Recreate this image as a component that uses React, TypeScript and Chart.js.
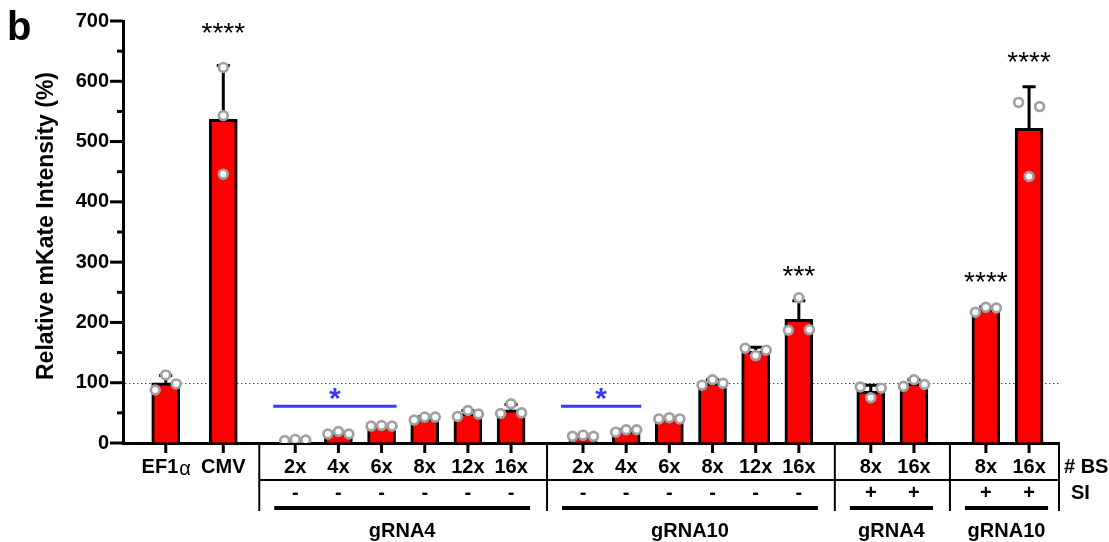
import React, { useEffect, useRef } from "react";
import { Chart, registerables } from "chart.js";

Chart.register(...registerables);

// ---------- data ----------
const categories = ["EF1α", "CMV", "2x", "4x", "6x", "8x", "12x", "16x", "2x", "4x", "6x", "8x", "12x", "16x", "8x", "16x", "8x", "16x"];
const groupIndex = [0, 0, 1, 1, 1, 1, 1, 1, 2, 2, 2, 2, 2, 2, 3, 3, 4, 4];
const siMarks = ["", "", "-", "-", "-", "-", "-", "-", "-", "-", "-", "-", "-", "-", "+", "+", "+", "+"];
const groupNames = ["", "gRNA4", "gRNA10", "gRNA4", "gRNA10"];
const means = [100, 537, 5, 16, 28, 41, 49, 55, 12, 20, 41, 100, 152, 205, 86, 99, 222, 522];
const sds = [12, 89, 1, 2, 1, 3, 5, 9, 1, 2, 1, 5, 7, 31, 10, 6, 4, 69];
const replicates = [
  [88, 113, 98], [623, 543, 446],
  [4, 6, 5], [15, 19, 15], [28, 29, 28], [38, 43, 43], [44, 54, 48], [49, 65, 50],
  [11, 13, 11], [18, 22, 22], [40, 42, 40], [96, 105, 99], [157, 145, 154], [187, 241, 188],
  [93, 75, 91], [94, 105, 97],
  [217, 225, 224], [565, 442, 558],
];
const stars = ["", "****", "", "", "", "", "", "", "", "", "", "", "", "***", "", "", "****", "****"];
const sigFrom = [2, 8];
const sigTo = [4, 9];
const sigLabel = ["*", "*"];
const sigValue = [61, 61];
const referenceValue = 100;
const yMin = 0;
const yMax = 700;
const yStep = 100;
const rowLabelBS = "# BS";
const rowLabelSI = "SI";
const panelLetter = "b";
const yTitle = "Relative mKate Intensity (%)";

// ---------- layout (computed) ----------
const slotPos: number[] = [];
categories.forEach((_, i) => {
  if (i === 0) slotPos.push(0);
  else {
    const same = groupIndex[i] === groupIndex[i - 1];
    slotPos.push(slotPos[i - 1] + (same ? (groupIndex[i] === 0 ? 4 : 3) : 5));
  }
});
const SPREAD = 0.73;
const pointData: { x: number; y: number }[] = [];
replicates.forEach((reps, i) => {
  const isolated = reps.map((v, j) => reps.every((w, k) => k === j || Math.abs(v - w) > 18));
  const clustered = reps.map((_, j) => j).filter((j) => !isolated[j]);
  const offs: number[] = clustered.length === 3 ? [-1, 0, 1] : clustered.length === 2 ? [-1, 1] : [0];
  reps.forEach((v, j) => {
    let o = 0;
    if (!isolated[j]) o = offs[clustered.indexOf(j)];
    pointData.push({ x: slotPos[i] + o * SPREAD, y: v });
  });
});

const FF = 'Arial, "Liberation Sans", Helvetica, sans-serif';

const annotPlugin = {
  id: "annot",
  beforeDatasetsDraw(chart: any) {
    const { ctx, chartArea, scales } = chart;
    const y = Math.round(scales.y.getPixelForValue(referenceValue)) + 0.5;
    ctx.save();
    ctx.strokeStyle = "#444";
    ctx.lineWidth = 1.2;
    ctx.setLineDash([1.4, 2.6]);
    ctx.beginPath();
    ctx.moveTo(chartArea.left + 2, y);
    ctx.lineTo(chartArea.right, y);
    ctx.stroke();
    ctx.restore();
  },
  afterDatasetDraw(chart: any, args: any) {
    if (args.index !== 0) return;
    const { ctx, scales } = chart;
    ctx.save();
    ctx.strokeStyle = "#000";
    ctx.lineWidth = 3;
    means.forEach((m, i) => {
      const x = scales.x.getPixelForValue(slotPos[i]);
      const y0 = scales.y.getPixelForValue(m);
      const y1 = scales.y.getPixelForValue(m + sds[i]);
      ctx.beginPath();
      ctx.moveTo(x, y0);
      ctx.lineTo(x, y1);
      ctx.moveTo(x - 6.5, y1);
      ctx.lineTo(x + 6.5, y1);
      ctx.stroke();
    });
    ctx.restore();
  },
  afterDraw(chart: any) {
    const { ctx, chartArea, scales } = chart;
    const xs = scales.x;
    const ys = scales.y;
    const px = (i: number) => xs.getPixelForValue(slotPos[i]);
    const axisX = chartArea.left;
    const axisY = chartArea.bottom;
    ctx.save();
    ctx.fillStyle = "#000";
    ctx.strokeStyle = "#000";

    // y ticks
    ctx.lineWidth = 3;
    for (let v = yMin; v <= yMax; v += yStep / 2) {
      const y = ys.getPixelForValue(v);
      const major = v % yStep === 0;
      ctx.beginPath();
      ctx.moveTo(axisX - (major ? 13 : 6), y);
      ctx.lineTo(axisX, y);
      ctx.stroke();
    }
    // x ticks
    categories.forEach((_, i) => {
      const x = px(i);
      ctx.beginPath();
      ctx.moveTo(x, axisY);
      ctx.lineTo(x, axisY + 10);
      ctx.stroke();
    });

    // row 1 labels
    ctx.textBaseline = "middle";
    const row1 = axisY + 24;
    const row2 = axisY + 50;
    categories.forEach((lab, i) => {
      const x = px(i);
      if (lab.includes("α")) {
        const base = lab.replace("α", "");
        ctx.font = `bold 20px ${FF}`;
        const w1 = ctx.measureText(base).width;
        ctx.font = `20px ${FF}`;
        const w2 = ctx.measureText("α").width;
        const start = x - (w1 + w2) / 2;
        ctx.textAlign = "left";
        ctx.font = `bold 20px ${FF}`;
        ctx.fillText(base, start, row1);
        ctx.font = `20px ${FF}`;
        ctx.fillText("α", start + w1 + 1, row1 + 2);
      } else {
        ctx.textAlign = "center";
        ctx.font = `bold 20px ${FF}`;
        ctx.fillText(lab, x, row1);
      }
      if (siMarks[i]) {
        ctx.textAlign = "center";
        ctx.font = `bold 20px ${FF}`;
        ctx.fillText(siMarks[i], x, row2);
      }
    });

    // separators
    const groups = Array.from(new Set(groupIndex));
    const firstOf = (g: number) => groupIndex.indexOf(g);
    const lastOf = (g: number) => groupIndex.lastIndexOf(g);
    const seps: number[] = [];
    for (let g = 0; g < groups.length - 1; g++) {
      seps.push((px(lastOf(g)) + px(firstOf(g + 1))) / 2);
    }
    seps.push(chartArea.right);
    ctx.lineWidth = 2;
    seps.forEach((sx) => {
      ctx.beginPath();
      ctx.moveTo(sx, axisY);
      ctx.lineTo(sx, axisY + 68);
      ctx.stroke();
    });
    ctx.beginPath();
    ctx.moveTo(seps[0], axisY + 37);
    ctx.lineTo(chartArea.right, axisY + 37);
    ctx.stroke();

    // group underlines + names
    ctx.lineWidth = 4;
    groups.forEach((g) => {
      if (!groupNames[g]) return;
      const a = px(firstOf(g)) - 21;
      const b = px(lastOf(g)) + 19;
      ctx.beginPath();
      ctx.moveTo(a, axisY + 65);
      ctx.lineTo(b, axisY + 65);
      ctx.stroke();
      ctx.textAlign = "center";
      ctx.font = `bold 20px ${FF}`;
      ctx.fillText(groupNames[g], (a + b) / 2, axisY + 88);
    });

    // row labels
    ctx.textAlign = "left";
    ctx.font = `bold 20px ${FF}`;
    ctx.fillText(rowLabelBS, chartArea.right + 5, row1);
    ctx.fillText(rowLabelSI, chartArea.right + 12, row2);

    // stars
    const centerText = (t: string, x: number, cy: number) => {
      const m = ctx.measureText(t);
      const asc = m.actualBoundingBoxAscent;
      const desc = m.actualBoundingBoxDescent;
      ctx.textBaseline = "alphabetic";
      ctx.fillText(t, x, cy + (asc - desc) / 2);
    };
    ctx.textAlign = "center";
    ctx.font = `28px ${FF}`;
    stars.forEach((s, i) => {
      if (!s) return;
      const y = ys.getPixelForValue(means[i] + sds[i]) - 30;
      centerText(s, px(i), y);
    });

    // significance brackets
    ctx.strokeStyle = "#3a3aff";
    ctx.fillStyle = "#3a3aff";
    ctx.lineWidth = 3;
    sigFrom.forEach((f, k) => {
      const a = px(f) - 22;
      const b = px(sigTo[k]) + 15;
      const y = ys.getPixelForValue(sigValue[k]);
      ctx.beginPath();
      ctx.moveTo(a, y);
      ctx.lineTo(b, y);
      ctx.stroke();
      ctx.font = `bold 30px ${FF}`;
      centerText(sigLabel[k], (a + b) / 2, y - 12);
    });

    // panel letter
    ctx.fillStyle = "#000";
    ctx.textAlign = "left";
    ctx.textBaseline = "alphabetic";
    ctx.font = `bold 40px ${FF}`;
    ctx.fillText(panelLetter, 7, 40);

    // y title
    ctx.save();
    ctx.translate(47, (ys.top + ys.bottom) / 2 - 6);
    ctx.rotate(-Math.PI / 2);
    ctx.textAlign = "center";
    ctx.textBaseline = "middle";
    ctx.font = `bold 23px ${FF}`;
    ctx.fillText(yTitle, 0, 0);
    ctx.restore();

    ctx.restore();
  },
};

export default function App() {
  const ref = useRef<HTMLCanvasElement>(null);
  useEffect(() => {
    const chart = new Chart(ref.current as HTMLCanvasElement, {
      type: "bar",
      data: {
        datasets: [
          {
            type: "bar",
            data: slotPos.map((x, i) => ({ x, y: means[i] })),
            backgroundColor: "#ff0000",
            borderColor: "#000000",
            borderWidth: 3,
            barThickness: 28,
            borderSkipped: "start",
            order: 2,
          } as any,
          {
            type: "scatter",
            data: pointData,
            pointRadius: 4.4,
            pointBorderWidth: 2.7,
            pointBackgroundColor: "#ffffff",
            pointBorderColor: "#a0a0a0",
            order: 1,
          } as any,
        ],
      },
      options: {
        responsive: false,
        animation: false,
        devicePixelRatio: 1,
        layout: { padding: { top: 21, right: 50, left: 0, bottom: 0 } },
        plugins: { legend: { display: false }, tooltip: { enabled: false } },
        scales: {
          x: {
            type: "linear",
            min: -2.97,
            max: 62.08,
            offset: false,
            grid: { display: false },
            ticks: { display: false },
            border: { display: true, width: 3, color: "#000" },
            afterFit: (s: any) => {
              s.height = 99;
            },
          },
          y: {
            min: yMin,
            max: yMax,
            ticks: {
              stepSize: yStep,
              color: "#000",
              padding: 4,
              font: { family: FF, size: 20, weight: "bold" },
            },
            grid: { display: true, drawOnChartArea: false, drawTicks: true, tickLength: 10, color: "rgba(0,0,0,0)" },
            border: { display: true, width: 3, color: "#000" },
            afterFit: (s: any) => {
              s.width = 123;
            },
          },
        },
      } as any,
      plugins: [annotPlugin],
    });
    return () => chart.destroy();
  }, []);
  return (
    <div style={{ position: "fixed", left: 0, top: 0, width: 1109, height: 542, background: "#fff" }}>
      <canvas ref={ref} width={1109} height={542} style={{ display: "block", width: 1109, height: 542 }} />
    </div>
  );
}
